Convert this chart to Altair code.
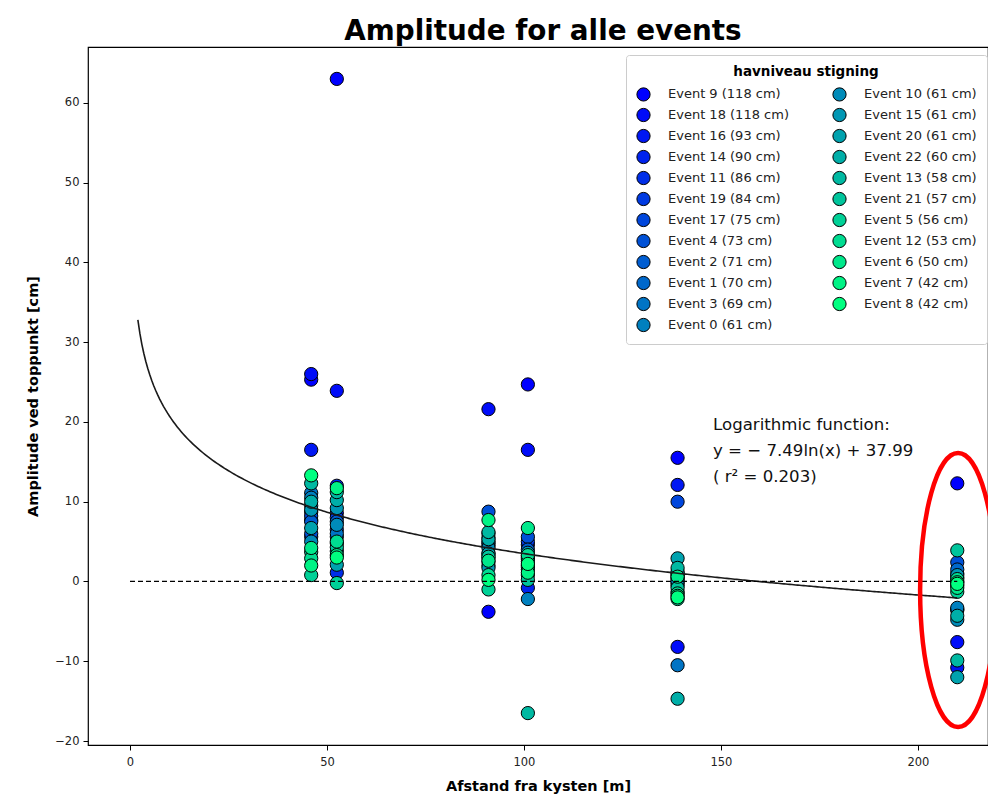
import altair as alt
import pandas as pd

# Events in legend order (sorted by sea-level rise)
events = [9, 18, 16, 14, 11, 19, 17, 4, 2, 1, 3, 0, 10, 15, 20, 22, 13, 21, 5, 12, 6, 7, 8]
heights = [118, 118, 93, 90, 86, 84, 75, 73, 71, 70, 69, 61, 61, 61, 61, 60, 58, 57, 56, 53, 50, 42, 42]

distances = [46, 52.5, 91, 101, 139, 210]

amp_46 = [25.3, 26.0, 16.5, 8.7, 5.6, 7.7, 8.2, 6.0, 7.5, 9.5, 11.1, 10.5,
          5.0, 9.0, 6.7, 10.0, 12.3, 3.7, 0.8, 2.9, 4.2, 2.0, 13.3]
amp_52 = [63.0, 23.9, 8.6, 12.0, 1.1, 8.0, 6.5, 5.6, 7.5, 4.8, 6.0, 3.8,
          7.1, 9.2, 2.1, 10.2, 11.2, 4.3, -0.2, 5.0, 3.3, 11.7, 3.0]
amp_91 = [-3.8, 21.6, 4.5, 5.5, 3.5, 2.5, 4.8, 8.75, 6.0, 5.0, 3.0, 2.0,
          4.2, 1.7, 3.5, 5.3, 6.2, 3.1, -1.0, 0.8, 2.6, 7.7, 0.2]
amp_101 = [24.7, 16.5, 4.6, -0.8, 3.0, 5.0, 2.0, 5.6, 4.0, 3.2, 1.5, -2.2,
           2.8, 3.6, 0.8, 2.5, -16.5, 0.2, 1.8, 3.3, 6.7, 1.1, 2.2]
amp_139 = [15.5, -8.2, 12.1, 0.8, -0.2, 0.3, 10.0, -0.5, 1.0, 0.5, -10.5, 0.0,
           -1.3, 1.2, 2.9, -14.7, 1.7, -0.8, -2.2, -1.5, 0.6, -1.8, -2.0]
amp_210 = [12.3, -7.6, -10.8, 0.5, -3.5, 1.0, 0.0, 2.4, -0.5, 1.5, -3.6, -3.3,
           -4.8, 0.8, -12.0, -4.3, -9.9, 3.9, -1.3, 0.3, -0.8, -0.1, -0.3]
amplitudes = [amp_46, amp_52, amp_91, amp_101, amp_139, amp_210]

# Logarithmic fit shown on the chart
fit_slope = -7.49
fit_intercept = 37.99
fit_r2 = 0.203

labels = [f"Event {e} ({h} cm)" for e, h in zip(events, heights)]
n = len(labels)


def winter(t):
    g = int(round(255 * t))
    b = int(round(255 * (1 - 0.5 * t)))
    return f"#00{g:02x}{b:02x}"


colors = [winter(i / (n - 1)) for i in range(n)]

rows = []
for d, amps in zip(distances, amplitudes):
    for i, a in enumerate(amps):
        rows.append({"distance": d, "amplitude": a, "label": labels[i], "rank": i})
df = pd.DataFrame(rows)

xscale = alt.Scale(domain=[-10.66, 217.8], nice=False, zero=False)
yscale = alt.Scale(domain=[-20.5, 67], nice=False, zero=False)

points = alt.Chart(df).mark_circle(size=175, opacity=1, stroke="black", strokeWidth=1).encode(
    x=alt.X("distance:Q", scale=xscale,
            axis=alt.Axis(values=[0, 50, 100, 150, 200], title="Afstand fra kysten [m]")),
    y=alt.Y("amplitude:Q", scale=yscale,
            axis=alt.Axis(values=list(range(-20, 61, 10)), title="Amplitude ved toppunkt [cm]")),
    color=alt.Color("label:N", scale=alt.Scale(domain=labels, range=colors),
                    legend=alt.Legend(
                        title="havniveau stigning", orient="none", legendX=538, legendY=8,
                        columns=2, direction="vertical", symbolType="circle", symbolSize=175,
                        symbolStrokeColor="black", symbolStrokeWidth=1, symbolOpacity=1,
                        labelFont="DejaVu Sans", labelFontSize=13, labelColor="#222222",
                        titleFont="DejaVu Sans", titleFontSize=13.5, titleFontWeight="bold",
                        titleColor="black", titleAnchor="middle", titlePadding=8,
                        fillColor="white", strokeColor="#cccccc", cornerRadius=3, padding=10,
                        rowPadding=2, columnPadding=41, labelOffset=17)),
    order=alt.Order("rank:Q"),
)

curve = alt.Chart(alt.sequence(2, 210.01, 0.5, as_="distance")).transform_calculate(
    amplitude=f"{fit_slope}*log(datum.distance)+{fit_intercept}"
).mark_line(color="#1a1a1a", strokeWidth=1.6).encode(
    x=alt.X("distance:Q"), y=alt.Y("amplitude:Q")
)

zero_df = pd.DataFrame({"distance": [0], "distance2": [210], "amplitude": [0]})
zero_line = alt.Chart(zero_df).mark_rule(color="black", strokeDash=[5, 3], strokeWidth=1.2).encode(
    x=alt.X("distance:Q"), x2="distance2:Q", y=alt.Y("amplitude:Q")
)

note_df = pd.DataFrame({"distance": [148], "amplitude": [20.6]})
note = alt.Chart(note_df).mark_text(
    text=["Logarithmic function:", f" y = \u2212 {abs(fit_slope)}ln(x) + {fit_intercept}",
          f"( r\u00b2 = {fit_r2})"],
    align="left", baseline="top", font="DejaVu Sans", fontSize=16.6, lineHeight=26, color="#111111"
).encode(x=alt.X("distance:Q"), y=alt.Y("amplitude:Q"))

ell_df = pd.DataFrame({"distance": [210.2], "amplitude": [-1.07]})
ellipse = alt.Chart(ell_df).mark_point(
    shape="M 0 -1 A 0.277 1 0 1 1 0 1 A 0.277 1 0 1 1 0 -1 Z",
    filled=False, stroke="red", strokeWidth=4.5, opacity=1, size=75076, clip=False
).encode(x=alt.X("distance:Q"), y=alt.Y("amplitude:Q"))

chart = alt.layer(points, curve, zero_line, note, ellipse).properties(
    width=900, height=698,
    title=alt.TitleParams("Amplitude for alle events", font="DejaVu Sans", fontSize=27.8,
                          fontWeight="bold", color="black", anchor="middle", offset=1, dx=5),
    autosize=alt.AutoSizeParams(type="none"),
    padding={"left": 80, "top": 39, "right": 0, "bottom": 55},
).configure_view(stroke="black", strokeWidth=1.2).configure_axis(
    grid=False, domain=False, tickColor="black", tickSize=5, labelFont="DejaVu Sans",
    labelFontSize=11.5, labelColor="#222222", titleFont="DejaVu Sans", titleFontSize=14.5,
    titleFontWeight="bold", titleColor="black", labelPadding=4
).configure_axisY(titlePadding=14).configure_axisX(titlePadding=12, labelPadding=6)

chart.save("out.html", embed_options={"renderer": "svg", "actions": False})
